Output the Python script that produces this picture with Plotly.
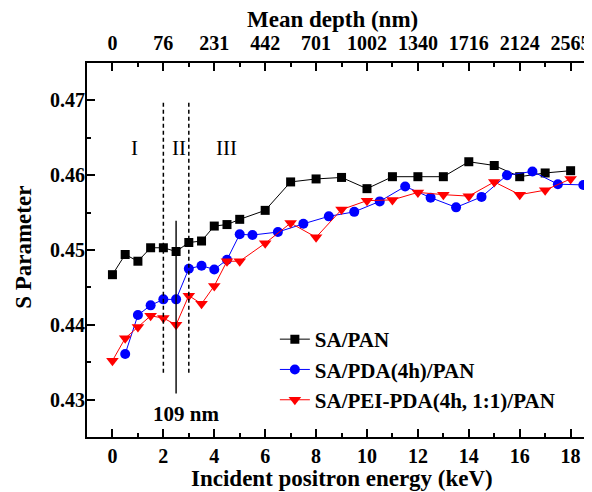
import plotly.graph_objects as go

# ---- data ----
pan_E = [0, 0.5, 1, 1.5, 2, 2.5, 3, 3.5, 4, 4.5, 5, 6, 7, 8, 9, 10, 11, 12, 13, 14, 15, 16, 17, 18]
pan_S = [0.4467, 0.4494, 0.4485, 0.4503, 0.4503, 0.4498, 0.4510, 0.4512, 0.4532, 0.4534, 0.4541, 0.4553,
         0.4591, 0.4595, 0.4597, 0.4582, 0.4598, 0.4598, 0.4598, 0.4618, 0.4613, 0.4598, 0.4603, 0.4606]

pda_E = [0.5, 1, 1.5, 2, 2.5, 3, 3.5, 4, 4.5, 5, 5.5, 6.5, 7.5, 8.5, 9.5, 10.5, 11.5, 12.5, 13.5, 14.5,
         15.5, 16.5, 17.5, 18.5]
pda_S = [0.4361, 0.4413, 0.4426, 0.4434, 0.4434, 0.4475, 0.4479, 0.4474, 0.4487, 0.4521, 0.4520, 0.4524,
         0.4535, 0.4545, 0.4551, 0.4565, 0.4585, 0.4570, 0.4557, 0.4571, 0.4600, 0.4605, 0.4588, 0.4587]

pei_E = [0, 0.5, 1, 1.5, 2, 2.5, 3, 3.5, 4, 4.5, 5, 6, 7, 8, 9, 10, 11, 12, 13, 14, 15, 16, 17, 18]
pei_S = [0.4352, 0.4382, 0.4397, 0.4412, 0.4409, 0.4400, 0.4439, 0.4428, 0.4452, 0.4485, 0.4485, 0.4509,
         0.4536, 0.4517, 0.4554, 0.4566, 0.4567, 0.4577, 0.4574, 0.4572, 0.4591, 0.4574, 0.4580, 0.4595]

energy_ticks = [0, 2, 4, 6, 8, 10, 12, 14, 16, 18]
depth_labels = ["0", "76", "231", "442", "701", "1002", "1340", "1716", "2124", "2565"]
s_ticks = [0.43, 0.44, 0.45, 0.46, 0.47]

region_bounds = [2, 3]
region_bound_span = [0.4336, 0.4697]
marker_E = 2.5
marker_span = [0.4308, 0.4539]
region_labels = ["I", "II", "III"]
region_label_E = [0.88, 2.6, 4.49]
region_label_S = 0.4636
depth_note = "109 nm"

FONT = "Liberation Serif"
fig = go.Figure()

fig.add_trace(go.Scatter(x=pan_E, y=pan_S, mode="lines+markers", name="SA/PAN",
                         line=dict(color="black", width=1),
                         marker=dict(symbol="square", size=9, color="black")))
fig.add_trace(go.Scatter(x=pda_E, y=pda_S, mode="lines+markers", name="SA/PDA(4h)/PAN",
                         line=dict(color="blue", width=1),
                         marker=dict(symbol="circle", size=10, color="blue")))
fig.add_trace(go.Scatter(x=pei_E, y=pei_S, mode="lines+markers", name="SA/PEI-PDA(4h, 1:1)/PAN",
                         line=dict(color="red", width=1),
                         marker=dict(symbol="triangle-down", size=11, color="red")))
# dummy trace so the top axis is drawn
fig.add_trace(go.Scatter(x=[0], y=[0.45], xaxis="x2", mode="markers",
                         marker=dict(opacity=0), showlegend=False, hoverinfo="skip"))

for xb in region_bounds:
    fig.add_shape(type="line", xref="x", yref="y", x0=xb, x1=xb,
                  y0=region_bound_span[0], y1=region_bound_span[1],
                  line=dict(color="black", width=1.5, dash="4px,3px"))
fig.add_shape(type="line", xref="x", yref="y", x0=marker_E, x1=marker_E,
              y0=marker_span[0], y1=marker_span[1], line=dict(color="black", width=1.4))

for lab, xe in zip(region_labels, region_label_E):
    fig.add_annotation(x=xe, y=region_label_S, xref="x", yref="y", text=lab, showarrow=False,
                       font=dict(family=FONT, size=21, color="black"))
fig.add_annotation(x=2.88, y=0.4281, xref="x", yref="y", text=depth_note, showarrow=False,
                   font=dict(family=FONT, size=21, color="black", weight="bold"))

title_font = dict(family=FONT, size=23, color="black", weight="bold")
fig.add_annotation(x=0.505, y=-0.110, xref="paper", yref="paper", text="Incident positron energy (keV)",
                   showarrow=False, yanchor="middle", font=title_font)
fig.add_annotation(x=0.487, y=1.116, xref="paper", yref="paper", text="Mean depth (nm)",
                   showarrow=False, yanchor="middle", font=title_font)
fig.add_annotation(x=-0.127, y=0.508, xref="paper", yref="paper", text="S Parameter",
                   showarrow=False, textangle=-90, xanchor="center", yanchor="middle", font=title_font)

xr = [-1, 18.84]
minor_common = dict(ticks="inside", ticklen=4, tickwidth=1.5, tickcolor="black")
axis_common = dict(showline=True, linecolor="black", linewidth=2, ticks="inside",
                   ticklen=8, tickwidth=1.5, tickcolor="black", showgrid=False, zeroline=False,
                   automargin=False,
                   tickfont=dict(family=FONT, size=20, color="black", weight="bold"))

# the page body adds an 8px offset, so the figure is 8px smaller than the window
fig.update_layout(
    width=584, height=484,
    margin=dict(l=79, r=0, t=55, b=55),
    paper_bgcolor="white", plot_bgcolor="white",
    xaxis=dict(range=xr, tickmode="array", tickvals=energy_ticks,
               minor=dict(dtick=1, tick0=0, **minor_common), **axis_common),
    xaxis2=dict(range=xr, overlaying="x", side="top", anchor="y", tickmode="array",
                tickvals=energy_ticks, ticktext=depth_labels, ticklabelstandoff=3,
                minor=dict(dtick=1, tick0=0, **minor_common), **axis_common),
    yaxis=dict(range=[0.425, 0.475], tickmode="array", tickvals=s_ticks, tickformat=".2f",
               ticklabelstandoff=-4,
               minor=dict(dtick=0.005, tick0=0.425, **minor_common), **axis_common),
    legend=dict(x=0.372, y=0.3155, xanchor="left", yanchor="top", bgcolor="rgba(0,0,0,0)",
                font=dict(family=FONT, size=21, color="black", weight="bold"),
                tracegroupgap=0),
    showlegend=True,
)

fig.write_html("out.html")
